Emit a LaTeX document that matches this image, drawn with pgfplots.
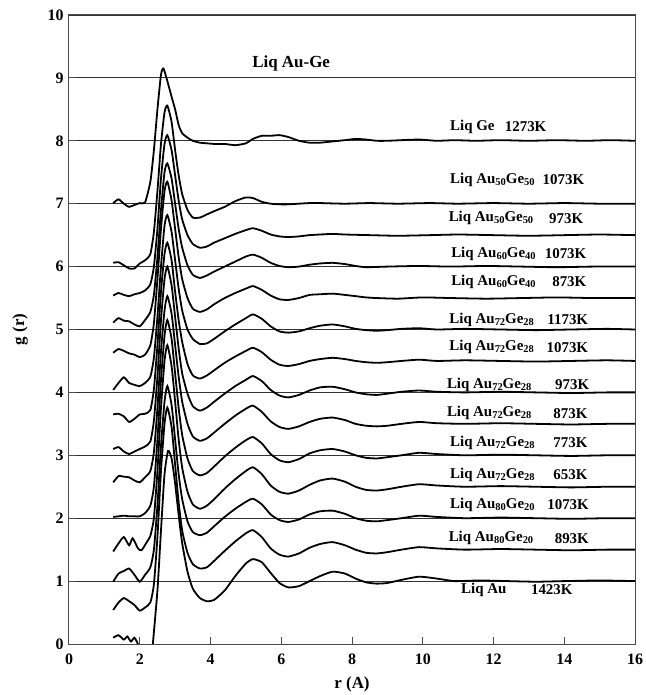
\documentclass[border=0pt]{standalone}
\usepackage{fontspec}
\setmainfont{Liberation Serif}
\usepackage{pgfplots}
\pgfplotsset{compat=1.18}
\newcommand\sub[1]{\raisebox{-0.3ex}{\fontsize{10.5}{10.5}\selectfont #1}}
\tikzset{
  gr/.style={black, line width=1.8bp, smooth, tension=0.35, mark=none},
  lab/.style={inner sep=0pt, font=\bfseries\fontsize{15}{17}\selectfont},
}
\begin{document}
\begin{tikzpicture}
\begin{axis}[
  width=566bp, height=629bp, scale only axis,
  xmin=0, xmax=16, ymin=0, ymax=10,
  xtick={0,2,...,16}, ytick={0,1,...,10},
  tick align=inside, tick pos=left, major tick length=7bp,
  ymajorgrids, grid style={black!80, line width=0.8bp},
  axis line style={black!70, line width=1bp},
  every tick/.style={black!70, line width=1bp},
  ticklabel style={font=\bfseries\fontsize{16}{16}\selectfont},
  /pgf/number format/assume math mode=true,
  xticklabel style={yshift=-6bp}, yticklabel style={xshift=-2bp},
  xlabel={r (A)}, ylabel={g (r)},
  every axis x label/.style={at={(rel axis cs:0.5,0)}, yshift=-40bp, anchor=center, font=\bfseries\fontsize{17}{17}\selectfont},
  every axis y label/.style={at={(rel axis cs:0,0.5)}, xshift=-49bp, rotate=90, anchor=center, font=\bfseries\fontsize{17}{17}\selectfont},
]
% Liq Ge 1273K
\addplot[gr] coordinates {(1.25,7.01)(1.4,7.07)(1.55,7.00)(1.7,6.95)(1.85,6.98)(2.0,7.01)(2.15,7.02)(2.3,7.35)(2.4,7.85)(2.5,8.5)(2.6,9.05)(2.67,9.15)(2.78,8.95)(2.9,8.7)(3.0,8.5)(3.1,8.25)(3.2,8.12)(3.35,8.05)(3.5,8.0)(3.7,7.97)(3.9,7.96)(4.1,7.95)(4.4,7.95)(4.7,7.93)(5.0,7.96)(5.2,8.03)(5.45,8.08)(5.7,8.08)(5.95,8.09)(6.2,8.06)(6.5,8.0)(6.8,7.97)(7.1,7.97)(7.45,7.99)(7.8,8.01)(8.1,8.03)(8.4,8.02)(8.7,8.0)(9.0,8.0)(9.4,8.01)(9.9,8.02)(10.4,8.0)(10.9,8.01)(11.5,8.0)(12.2,8.01)(13.0,8.0)(13.8,8.01)(14.6,8.0)(15.3,8.01)(16.0,8.0)};
% Au50Ge50 1073K
\addplot[gr] coordinates {(1.25,6.06)(1.4,6.07)(1.55,6.02)(1.7,5.97)(1.85,5.97)(2.0,6.05)(2.15,6.1)(2.3,6.2)(2.4,6.55)(2.5,7.2)(2.6,7.95)(2.7,8.45)(2.78,8.56)(2.9,8.3)(3.0,7.85)(3.1,7.45)(3.2,7.15)(3.35,6.9)(3.5,6.78)(3.7,6.78)(3.9,6.83)(4.1,6.88)(4.4,6.95)(4.7,7.04)(5.0,7.1)(5.2,7.09)(5.45,7.03)(5.7,7.0)(5.95,6.99)(6.2,6.99)(6.5,7.0)(6.8,7.01)(7.1,7.01)(7.8,7.0)(8.5,7.01)(9.3,7.0)(10.2,7.01)(11.0,7.0)(12.0,7.01)(13.0,7.0)(14.0,7.01)(15.0,7.0)(16.0,7.0)};
% Au50Ge50 973K
\addplot[gr] coordinates {(1.25,5.54)(1.4,5.58)(1.55,5.55)(1.7,5.53)(1.85,5.56)(2.0,5.58)(2.15,5.62)(2.3,5.72)(2.4,6.0)(2.5,6.6)(2.6,7.4)(2.7,7.95)(2.78,8.09)(2.9,7.85)(3.0,7.45)(3.1,7.05)(3.2,6.75)(3.35,6.5)(3.5,6.36)(3.7,6.3)(3.9,6.32)(4.1,6.38)(4.4,6.45)(4.7,6.52)(5.0,6.58)(5.2,6.61)(5.45,6.57)(5.7,6.51)(5.95,6.48)(6.2,6.47)(6.5,6.48)(6.8,6.5)(7.1,6.51)(7.45,6.52)(7.8,6.51)(8.5,6.5)(9.3,6.49)(10.2,6.5)(11.0,6.51)(12.0,6.5)(13.0,6.49)(14.0,6.5)(15.0,6.51)(16.0,6.5)};
% Au60Ge40 1073K
\addplot[gr] coordinates {(1.25,5.11)(1.4,5.18)(1.55,5.14)(1.7,5.13)(1.85,5.08)(2.0,5.05)(2.15,5.15)(2.3,5.28)(2.4,5.55)(2.5,6.15)(2.6,6.9)(2.7,7.5)(2.78,7.64)(2.9,7.4)(3.0,7.0)(3.1,6.6)(3.2,6.3)(3.35,6.02)(3.5,5.87)(3.7,5.82)(3.9,5.86)(4.1,5.92)(4.4,6.0)(4.7,6.08)(5.0,6.16)(5.2,6.19)(5.45,6.14)(5.7,6.06)(5.95,6.01)(6.2,5.99)(6.5,6.0)(6.8,6.03)(7.1,6.05)(7.45,6.06)(7.8,6.04)(8.1,6.01)(8.4,5.99)(9.0,6.0)(9.9,6.01)(10.8,6.0)(11.8,6.01)(12.8,6.0)(13.8,5.99)(14.8,6.0)(16.0,6.0)};
% Au60Ge40 873K
\addplot[gr] coordinates {(1.25,4.63)(1.4,4.69)(1.55,4.66)(1.7,4.62)(1.85,4.6)(2.0,4.56)(2.15,4.6)(2.3,4.75)(2.4,5.1)(2.5,5.8)(2.6,6.6)(2.7,7.2)(2.78,7.35)(2.9,7.05)(3.0,6.6)(3.1,6.15)(3.2,5.8)(3.35,5.5)(3.5,5.33)(3.7,5.28)(3.9,5.32)(4.1,5.4)(4.4,5.5)(4.7,5.58)(5.0,5.65)(5.2,5.69)(5.45,5.63)(5.7,5.54)(5.95,5.48)(6.2,5.47)(6.5,5.5)(6.8,5.55)(7.1,5.56)(7.45,5.57)(7.8,5.55)(8.1,5.53)(8.4,5.51)(8.7,5.5)(9.3,5.49)(10.0,5.51)(10.8,5.5)(11.8,5.49)(12.8,5.5)(13.8,5.51)(14.8,5.5)(16.0,5.5)};
% Au72Ge28 1173K
\addplot[gr] coordinates {(1.25,4.04)(1.4,4.15)(1.55,4.24)(1.7,4.15)(1.85,4.12)(2.0,4.1)(2.15,4.15)(2.3,4.25)(2.4,4.55)(2.5,5.2)(2.6,6.0)(2.7,6.65)(2.78,6.82)(2.9,6.55)(3.0,6.1)(3.1,5.65)(3.2,5.3)(3.35,5.0)(3.5,4.85)(3.7,4.77)(3.9,4.78)(4.1,4.85)(4.4,4.97)(4.7,5.08)(5.0,5.18)(5.2,5.24)(5.45,5.17)(5.7,5.05)(5.95,4.97)(6.2,4.95)(6.5,4.97)(6.8,5.02)(7.1,5.06)(7.45,5.08)(7.8,5.05)(8.1,5.01)(8.4,4.99)(8.7,4.98)(9.0,4.99)(9.4,5.01)(9.9,5.02)(10.4,5.0)(11.2,5.01)(12.2,5.0)(13.2,4.99)(14.2,5.0)(15.2,5.01)(16.0,5.0)};
% Au72Ge28 1073K
\addplot[gr] coordinates {(1.25,3.65)(1.4,3.66)(1.55,3.62)(1.7,3.53)(1.85,3.58)(2.0,3.65)(2.15,3.66)(2.3,3.72)(2.4,4.05)(2.5,4.75)(2.6,5.6)(2.7,6.2)(2.78,6.38)(2.9,6.1)(3.0,5.6)(3.1,5.15)(3.2,4.8)(3.35,4.45)(3.5,4.27)(3.7,4.22)(3.9,4.27)(4.1,4.35)(4.4,4.47)(4.7,4.57)(5.0,4.66)(5.2,4.71)(5.45,4.64)(5.7,4.52)(5.95,4.44)(6.2,4.42)(6.5,4.45)(6.8,4.5)(7.1,4.53)(7.45,4.55)(7.8,4.53)(8.1,4.5)(8.4,4.48)(8.7,4.47)(9.0,4.48)(9.4,4.5)(9.9,4.52)(10.4,4.5)(11.2,4.51)(12.2,4.5)(13.2,4.49)(14.2,4.5)(15.2,4.51)(16.0,4.5)};
% Au72Ge28 973K
\addplot[gr] coordinates {(1.25,3.1)(1.4,3.13)(1.55,3.06)(1.7,3.02)(1.85,3.06)(2.0,3.1)(2.15,3.14)(2.3,3.22)(2.4,3.55)(2.5,4.25)(2.6,5.15)(2.7,5.8)(2.78,6.0)(2.9,5.7)(3.0,5.2)(3.1,4.7)(3.2,4.3)(3.35,3.98)(3.5,3.78)(3.7,3.71)(3.9,3.76)(4.1,3.85)(4.4,3.98)(4.7,4.1)(5.0,4.2)(5.2,4.26)(5.45,4.18)(5.7,4.04)(5.95,3.95)(6.2,3.92)(6.5,3.96)(6.8,4.03)(7.1,4.08)(7.45,4.09)(7.8,4.05)(8.1,4.0)(8.4,3.97)(8.7,3.96)(9.0,3.98)(9.4,4.01)(9.9,4.03)(10.4,4.01)(11.2,4.0)(12.2,4.01)(13.2,4.0)(14.2,3.99)(15.2,4.0)(16.0,4.0)};
% Au72Ge28 873K
\addplot[gr] coordinates {(1.25,2.57)(1.4,2.67)(1.55,2.66)(1.7,2.65)(1.85,2.6)(2.0,2.57)(2.15,2.65)(2.3,2.75)(2.4,3.05)(2.5,3.75)(2.6,4.65)(2.7,5.3)(2.78,5.53)(2.9,5.25)(3.0,4.75)(3.1,4.25)(3.2,3.85)(3.35,3.5)(3.5,3.3)(3.7,3.23)(3.9,3.27)(4.1,3.36)(4.4,3.5)(4.7,3.63)(5.0,3.74)(5.2,3.79)(5.45,3.69)(5.7,3.54)(5.95,3.45)(6.2,3.42)(6.5,3.46)(6.8,3.53)(7.1,3.58)(7.45,3.6)(7.8,3.56)(8.1,3.5)(8.4,3.47)(8.7,3.46)(9.0,3.47)(9.4,3.5)(9.9,3.53)(10.4,3.51)(11.2,3.5)(12.2,3.51)(13.2,3.5)(14.2,3.49)(15.2,3.5)(16.0,3.5)};
% Au72Ge28 773K
\addplot[gr] coordinates {(1.25,2.02)(1.4,2.03)(1.55,2.04)(1.7,2.03)(1.85,2.03)(2.0,2.03)(2.15,2.08)(2.3,2.2)(2.4,2.5)(2.5,3.25)(2.6,4.2)(2.7,4.9)(2.78,5.15)(2.9,4.85)(3.0,4.3)(3.1,3.75)(3.2,3.32)(3.35,2.95)(3.5,2.75)(3.7,2.68)(3.9,2.72)(4.1,2.82)(4.4,2.98)(4.7,3.12)(5.0,3.24)(5.2,3.29)(5.45,3.19)(5.7,3.02)(5.95,2.92)(6.2,2.89)(6.5,2.94)(6.8,3.03)(7.1,3.08)(7.45,3.1)(7.8,3.06)(8.1,3.0)(8.4,2.96)(8.7,2.95)(9.0,2.97)(9.4,3.0)(9.9,3.04)(10.4,3.02)(11.2,3.0)(12.2,3.01)(13.2,3.0)(14.2,2.99)(15.2,3.0)(16.0,3.0)};
% Au72Ge28 653K
\addplot[gr] coordinates {(1.25,1.47)(1.4,1.6)(1.55,1.7)(1.7,1.57)(1.8,1.68)(1.95,1.52)(2.05,1.49)(2.2,1.62)(2.3,1.72)(2.4,2.0)(2.5,2.75)(2.6,3.75)(2.7,4.5)(2.78,4.75)(2.9,4.42)(3.0,3.85)(3.1,3.25)(3.2,2.8)(3.35,2.42)(3.5,2.22)(3.7,2.15)(3.9,2.2)(4.1,2.3)(4.4,2.47)(4.7,2.62)(5.0,2.75)(5.2,2.81)(5.45,2.7)(5.7,2.52)(5.95,2.42)(6.2,2.39)(6.5,2.44)(6.8,2.53)(7.1,2.6)(7.45,2.63)(7.8,2.58)(8.1,2.5)(8.4,2.45)(8.7,2.44)(9.0,2.46)(9.4,2.5)(9.9,2.54)(10.4,2.52)(11.2,2.5)(12.2,2.51)(13.2,2.5)(14.2,2.49)(15.2,2.5)(16.0,2.5)};
% Au80Ge20 1073K
\addplot[gr] coordinates {(1.25,0.99)(1.4,1.12)(1.55,1.16)(1.7,1.2)(1.85,1.1)(2.0,0.99)(2.15,1.1)(2.3,1.22)(2.4,1.5)(2.5,2.2)(2.6,3.15)(2.7,3.85)(2.78,4.1)(2.9,3.8)(3.0,3.25)(3.1,2.7)(3.2,2.3)(3.35,1.95)(3.5,1.78)(3.7,1.73)(3.9,1.77)(4.1,1.87)(4.4,2.02)(4.7,2.15)(5.0,2.26)(5.2,2.31)(5.45,2.22)(5.7,2.06)(5.95,1.97)(6.2,1.94)(6.5,1.98)(6.8,2.06)(7.1,2.11)(7.45,2.12)(7.8,2.07)(8.1,2.0)(8.4,1.96)(8.7,1.95)(9.0,1.97)(9.4,2.0)(9.9,2.04)(10.4,2.02)(11.2,2.0)(12.2,2.01)(13.2,2.0)(14.2,1.99)(15.2,2.0)(16.0,2.0)};
% Au80Ge20 893K
\addplot[gr] coordinates {(1.25,0.54)(1.4,0.66)(1.55,0.73)(1.7,0.68)(1.85,0.62)(2.0,0.53)(2.15,0.58)(2.3,0.66)(2.4,0.95)(2.5,1.7)(2.6,2.75)(2.7,3.5)(2.78,3.76)(2.9,3.45)(3.0,2.85)(3.1,2.25)(3.2,1.8)(3.35,1.45)(3.5,1.27)(3.7,1.2)(3.9,1.22)(4.1,1.32)(4.4,1.48)(4.7,1.63)(5.0,1.76)(5.2,1.81)(5.45,1.7)(5.7,1.52)(5.95,1.42)(6.2,1.39)(6.5,1.44)(6.8,1.53)(7.1,1.59)(7.45,1.62)(7.8,1.57)(8.1,1.5)(8.4,1.45)(8.7,1.44)(9.0,1.46)(9.4,1.5)(9.9,1.54)(10.4,1.52)(11.2,1.5)(12.2,1.51)(13.2,1.5)(14.2,1.49)(15.2,1.5)(16.0,1.5)};
% Au 1423K
\addplot[gr] coordinates {(1.25,0.1)(1.4,0.14)(1.55,0.07)(1.65,0.12)(1.75,0.04)(1.85,0.1)(1.95,0.0)};
\addplot[gr] coordinates {(2.37,0.0)(2.5,0.85)(2.6,1.8)(2.7,2.7)(2.8,3.07)(2.9,2.95)(3.0,2.55)(3.1,2.05)(3.2,1.6)(3.35,1.15)(3.5,0.88)(3.7,0.73)(3.9,0.68)(4.1,0.7)(4.4,0.85)(4.7,1.08)(5.0,1.28)(5.2,1.35)(5.45,1.3)(5.7,1.13)(5.95,0.97)(6.2,0.9)(6.5,0.92)(6.8,1.0)(7.1,1.08)(7.45,1.15)(7.8,1.12)(8.1,1.04)(8.4,0.98)(8.7,0.96)(9.0,0.97)(9.4,1.02)(9.9,1.07)(10.4,1.04)(10.9,1.0)(11.6,1.01)(12.4,1.0)(13.2,0.99)(14.0,1.0)(15.0,1.01)(16.0,1.0)};
% labels
\node[lab, font=\bfseries\fontsize{17}{19}\selectfont] at (axis cs:6.28,9.23) {Liq Au-Ge};
\node[lab, anchor=west] at (axis cs:10.77,8.22) {Liq Ge};
\node[lab, anchor=east] at (axis cs:13.50,8.22) {1273K};
\node[lab, anchor=west] at (axis cs:10.77,7.38) {Liq Au\sub{50}Ge\sub{50}};
\node[lab, anchor=east] at (axis cs:14.57,7.38) {1073K};
\node[lab, anchor=west] at (axis cs:10.73,6.77) {Liq Au\sub{50}Ge\sub{50}};
\node[lab, anchor=east] at (axis cs:14.54,6.77) {973K};
\node[lab, anchor=west] at (axis cs:10.80,6.20) {Liq Au\sub{60}Ge\sub{40}};
\node[lab, anchor=east] at (axis cs:14.63,6.20) {1073K};
\node[lab, anchor=west] at (axis cs:10.80,5.76) {Liq Au\sub{60}Ge\sub{40}};
\node[lab, anchor=east] at (axis cs:14.63,5.76) {873K};
\node[lab, anchor=west] at (axis cs:10.75,5.15) {Liq Au\sub{72}Ge\sub{28}};
\node[lab, anchor=east] at (axis cs:14.68,5.15) {1173K};
\node[lab, anchor=west] at (axis cs:10.75,4.72) {Liq Au\sub{72}Ge\sub{28}};
\node[lab, anchor=east] at (axis cs:14.68,4.72) {1073K};
\node[lab, anchor=west] at (axis cs:10.68,4.12) {Liq Au\sub{72}Ge\sub{28}};
\node[lab, anchor=east] at (axis cs:14.71,4.12) {973K};
\node[lab, anchor=west] at (axis cs:10.68,3.67) {Liq Au\sub{72}Ge\sub{28}};
\node[lab, anchor=east] at (axis cs:14.66,3.67) {873K};
\node[lab, anchor=west] at (axis cs:10.77,3.20) {Liq Au\sub{72}Ge\sub{28}};
\node[lab, anchor=east] at (axis cs:14.66,3.20) {773K};
\node[lab, anchor=west] at (axis cs:10.77,2.69) {Liq Au\sub{72}Ge\sub{28}};
\node[lab, anchor=east] at (axis cs:14.66,2.69) {653K};
\node[lab, anchor=west] at (axis cs:10.77,2.21) {Liq Au\sub{80}Ge\sub{20}};
\node[lab, anchor=east] at (axis cs:14.70,2.21) {1073K};
\node[lab, anchor=west] at (axis cs:10.73,1.68) {Liq Au\sub{80}Ge\sub{20}};
\node[lab, anchor=east] at (axis cs:14.70,1.68) {893K};
\node[lab, anchor=west] at (axis cs:11.08,0.86) {Liq Au};
\node[lab, anchor=east] at (axis cs:14.24,0.86) {1423K};
\end{axis}
\pgfresetboundingbox
\path[use as bounding box] ([xshift=-69bp,yshift=-51bp]current axis.south west) rectangle ([xshift=11bp,yshift=15bp]current axis.north east);
\end{tikzpicture}
\end{document}
